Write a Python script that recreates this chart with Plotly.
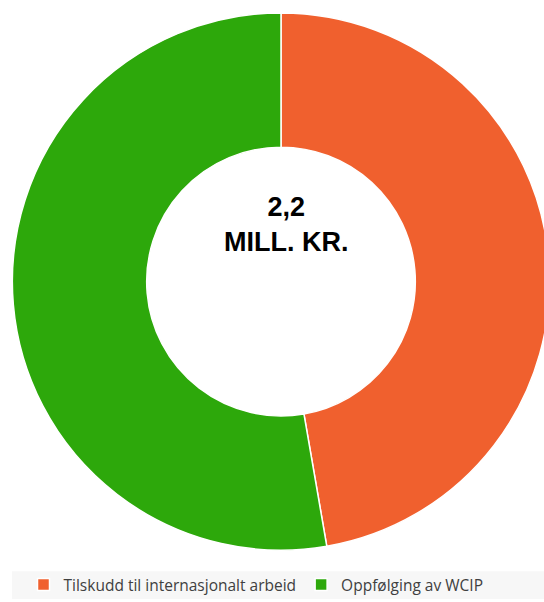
import plotly.graph_objects as go

labels = ["Tilskudd til internasjonalt arbeid", "Oppfølging av WCIP"]
values = [1.04, 1.16]
colors = ["#F0602E", "#2DA80B"]
center_text = "<b>2,2<br>MILL. KR.</b>"

W, H = 560, 602
cx, cy, R = 281, 283, 270

fig = go.Figure()
fig.add_trace(go.Pie(
    labels=labels, values=values, hole=0.5, sort=False, direction="clockwise",
    rotation=0, textinfo="none", hoverinfo="label+value",
    marker=dict(colors=colors, line=dict(color="white", width=1.5)),
    domain=dict(x=[(cx - R) / W, (cx + R) / W], y=[(H - cy - R) / H, (H - cy + R) / H]),
))

fig.add_shape(type="rect", xref="paper", yref="paper",
              x0=12 / W, x1=1, y0=0, y1=(H - 574) / H,
              fillcolor="#F7F7F7", line=dict(width=0), layer="below")

fig.add_annotation(text=center_text, x=(cx + 5) / W, y=(H - 226) / H, xref="paper", yref="paper",
                   showarrow=False, font=dict(family="Liberation Sans, Arial", size=27, color="black"),
                   xanchor="center", yanchor="middle")

fig.update_layout(
    width=W, height=H, autosize=False,
    margin=dict(l=0, r=0, t=0, b=0),
    paper_bgcolor="white", plot_bgcolor="white",
    showlegend=True,
    legend=dict(orientation="h", x=256 / W, xanchor="center", y=(H - 588) / H, yanchor="middle",
                font=dict(family="Open Sans, Noto Sans", size=15.5, color="#404040"),
                bgcolor="rgba(0,0,0,0)", itemwidth=30),
)

fig.write_html("out.html", config={"displayModeBar": False},
               post_script="document.body.style.margin='0';document.body.style.overflow='hidden';")
